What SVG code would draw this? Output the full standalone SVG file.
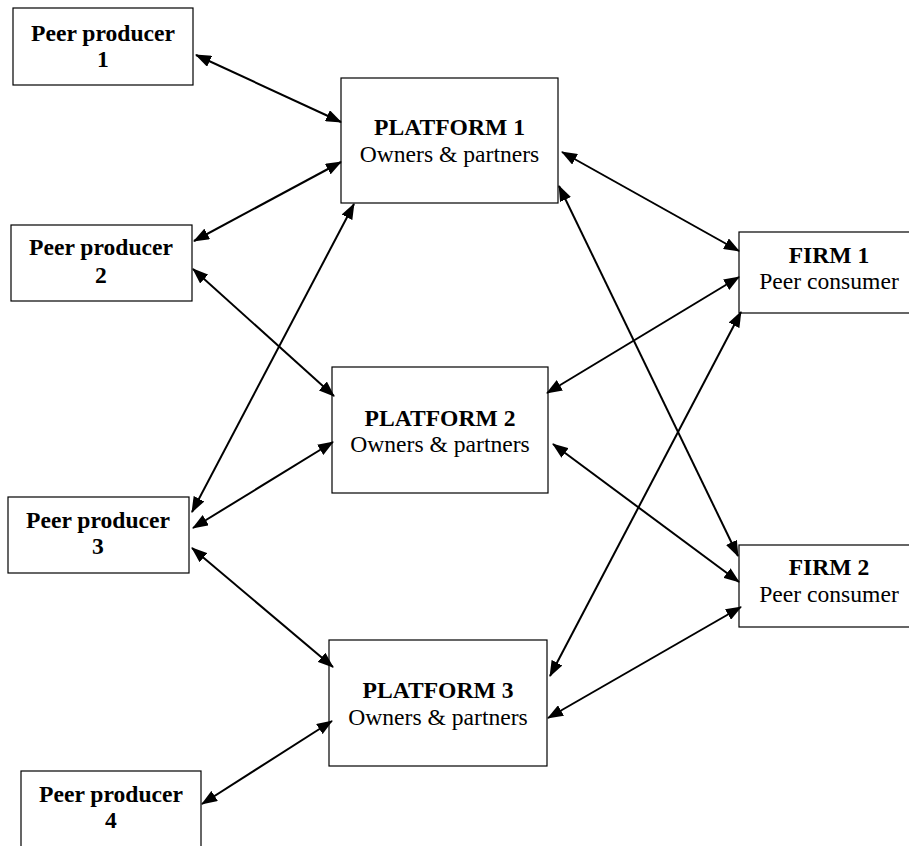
<svg xmlns="http://www.w3.org/2000/svg" width="909" height="846" viewBox="0 0 909 846">
<style>
.box{fill:#fff;stroke:#000;stroke-width:1.2}
.t{font-family:"Liberation Serif","Times New Roman",serif;font-size:23.6px;text-anchor:middle;fill:#000}
.b{font-weight:bold}
.c{stroke:#000;stroke-width:2;fill:none;marker-start:url(#ah);marker-end:url(#ah)}
</style>
<defs>
<marker id="ah" markerUnits="userSpaceOnUse" markerWidth="16" markerHeight="12" refX="15" refY="6" orient="auto-start-reverse" viewBox="0 0 16 12">
<path d="M0,0 L16,6 L0,12 z" fill="#000"/>
</marker>
</defs>
<rect width="909" height="846" fill="#fff"/>
<g id="pp1"><rect class="box" x="13" y="8" width="180" height="77"/><text class="t b" x="103" y="41">Peer producer</text><text class="t b" x="103" y="67">1</text></g>
<g id="pp2"><rect class="box" x="11" y="225" width="181" height="76"/><text class="t b" x="101" y="255">Peer producer</text><text class="t b" x="101" y="283">2</text></g>
<g id="pp3"><rect class="box" x="8" y="497" width="181" height="76"/><text class="t b" x="98" y="528">Peer producer</text><text class="t b" x="98" y="554">3</text></g>
<g id="pp4"><rect class="box" x="21" y="771" width="180" height="80"/><text class="t b" x="111" y="802">Peer producer</text><text class="t b" x="111" y="828">4</text></g>
<g id="p1"><rect class="box" x="341" y="78" width="217" height="125"/><text class="t b" x="449.5" y="135">PLATFORM 1</text><text class="t" x="449.5" y="162">Owners &amp; partners</text></g>
<g id="p2"><rect class="box" x="332" y="367" width="216" height="126"/><text class="t b" x="440" y="426">PLATFORM 2</text><text class="t" x="440" y="452">Owners &amp; partners</text></g>
<g id="p3"><rect class="box" x="329" y="640" width="218" height="126"/><text class="t b" x="438" y="698">PLATFORM 3</text><text class="t" x="438" y="725">Owners &amp; partners</text></g>
<g id="f1"><rect class="box" x="739" y="232" width="180" height="81"/><text class="t b" x="829" y="263">FIRM 1</text><text class="t" x="829" y="289">Peer consumer</text></g>
<g id="f2"><rect class="box" x="739" y="545" width="180" height="82"/><text class="t b" x="829" y="575">FIRM 2</text><text class="t" x="829" y="602">Peer consumer</text></g>
<g id="connectors">
<line class="c" x1="196" y1="55" x2="341" y2="122"/>
<line class="c" x1="194" y1="241" x2="341" y2="162"/>
<line class="c" x1="193" y1="269" x2="334" y2="396"/>
<line class="c" x1="192" y1="512" x2="354" y2="204"/>
<line class="c" x1="193" y1="528" x2="333" y2="442"/>
<line class="c" x1="192" y1="548" x2="333" y2="667"/>
<line class="c" x1="202" y1="804" x2="332" y2="721"/>
<line class="c" x1="562" y1="152" x2="739" y2="251"/>
<line class="c" x1="559" y1="186" x2="738" y2="556"/>
<line class="c" x1="739" y1="277" x2="547" y2="393"/>
<line class="c" x1="741" y1="312" x2="550" y2="676"/>
<line class="c" x1="553" y1="444" x2="739" y2="582"/>
<line class="c" x1="741" y1="607" x2="548" y2="718"/>
</g>
</svg>
